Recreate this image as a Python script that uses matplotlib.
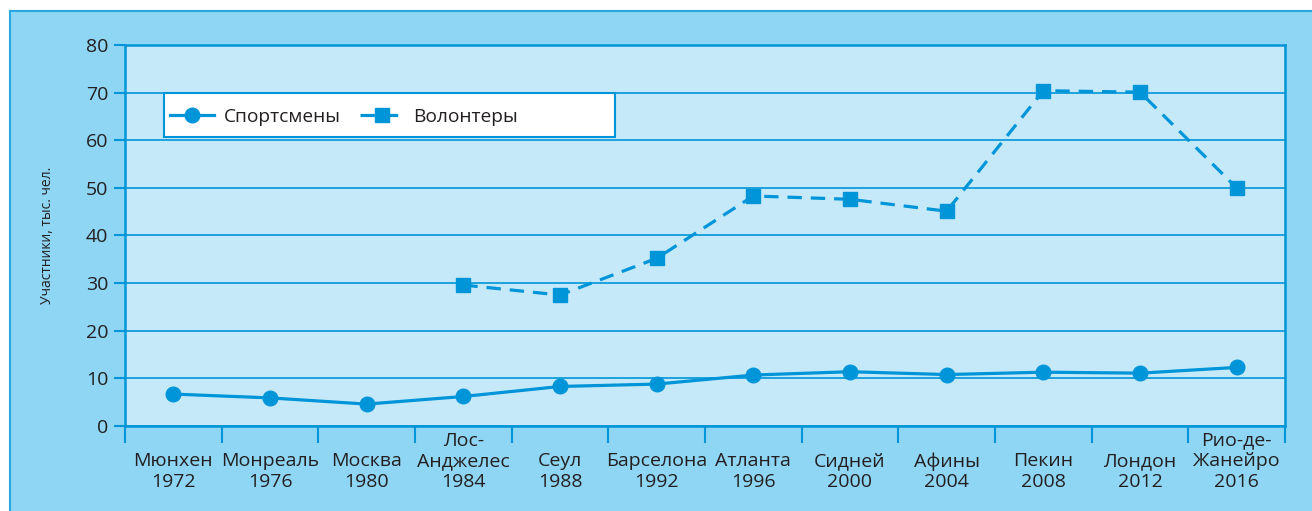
import matplotlib.pyplot as plt
from matplotlib.patches import Rectangle
from matplotlib.lines import Line2D

plt.rcParams['font.family'] = ['Open Sans', 'DejaVu Sans']

# Data
cities = ['Мюнхен', 'Монреаль', 'Москва', 'Лос-\nАнджелес', 'Сеул', 'Барселона',
          'Атланта', 'Сидней', 'Афины', 'Пекин', 'Лондон', 'Рио-де-\nЖанейро']
years = ['1972', '1976', '1980', '1984', '1988', '1992',
         '1996', '2000', '2004', '2008', '2012', '2016']
athletes = [6.7, 5.9, 4.6, 6.2, 8.3, 8.8, 10.7, 11.4, 10.8, 11.3, 11.1, 12.3]
volunteers_idx = [3, 4, 5, 6, 7, 8, 9, 10, 11]
volunteers = [29.6, 27.5, 35.2, 48.3, 47.6, 45.1, 70.4, 70.1, 50.0]

blue = '#0095d9'
outer_bg = '#8fd6f5'
plot_bg = '#c6e9f9'
text_c = '#231f20'

W, H = 1312, 511
fig = plt.figure(figsize=(W / 100, H / 100), dpi=100)
fig.patch.set_facecolor('white')

# outer coloured panel
fig.patches.append(Rectangle((10 / W, 0), 1, (H - 11) / H, transform=fig.transFigure,
                             facecolor=outer_bg, edgecolor='none', zorder=-2))
fig.lines.append(Line2D([10 / W, 1], [(H - 11) / H] * 2, transform=fig.transFigure,
                        color='#29a8e0', lw=1.5, zorder=-1))
fig.lines.append(Line2D([10 / W] * 2, [0, (H - 11) / H], transform=fig.transFigure,
                        color='#29a8e0', lw=1.5, zorder=-1))

ax = fig.add_axes([125 / W, (H - 426) / H, 1160 / W, 381 / H])
ax.set_zorder(1)
ax.set_facecolor(plot_bg)

x = list(range(len(cities)))
ax.plot(volunteers_idx, volunteers, color=blue, lw=2.3, ls=(0, (4.5, 2.8)),
        marker='s', ms=9.5, mec=blue, mfc=blue, label='Волонтеры', zorder=3)
ax.plot(x, athletes, color=blue, lw=2.3, marker='o', ms=10.5,
        mec=blue, mfc=blue, label='Спортсмены', zorder=4)

ax.set_xlim(-0.5, len(cities) - 0.5)
ax.set_ylim(0, 80)
ax.set_yticks(range(0, 81, 10))
ax.grid(axis='y', color=blue, lw=1.2)
ax.set_axisbelow(True)

labels = []
for c, y in zip(cities, years):
    if '\n' in c:
        labels.append(c + '\n' + y)
    else:
        labels.append('\n' + c + '\n' + y)
ax.set_xticks(x)
ax.set_xticklabels(labels, fontsize=14, color=text_c, linespacing=1.18)
ax.set_xticks([i - 0.5 for i in range(len(cities) + 1)], minor=True)
ax.tick_params(axis='x', which='major', length=0, pad=4)
ax.tick_params(axis='x', which='minor', length=12.5, width=1.5, color=blue)
ax.tick_params(axis='y', length=8, width=1.5, color=blue, labelsize=14,
               labelcolor=text_c, pad=4)

for s in ax.spines.values():
    s.set_color(blue)
    s.set_linewidth(1.8)

ax.set_ylabel('Участники, тыс. чел.', fontsize=10, color=text_c, labelpad=22)

# legend box
ax.add_patch(Rectangle((0.0336, 0.7585), 0.3888, 0.1155, transform=ax.transAxes,
                       facecolor='white', edgecolor=blue, lw=1.5, zorder=4.5))
h, l = ax.get_legend_handles_labels()
leg = ax.legend(h[::-1], l[::-1], loc='center left',
                bbox_to_anchor=(0.0336, 0.811), ncol=2, fontsize=13.8,
                frameon=False, handlelength=2.3, handletextpad=0.5,
                columnspacing=1.0, borderpad=0.3, borderaxespad=0)
for t in leg.get_texts():
    t.set_color(text_c)

fig.savefig('out.png', dpi=100, facecolor=fig.get_facecolor())
